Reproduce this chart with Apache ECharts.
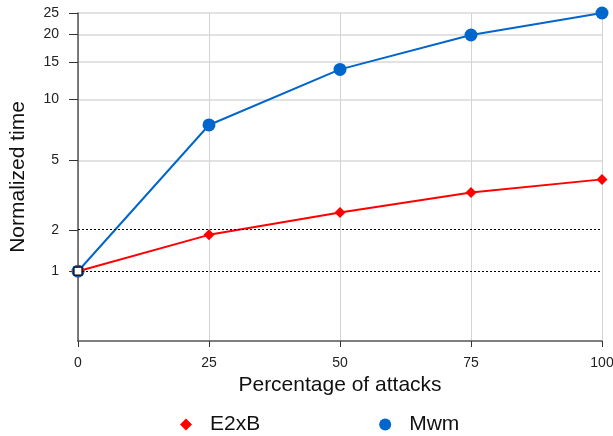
<!DOCTYPE html>
<html>
<head>
<meta charset="utf-8">
<script src="https://cdn.jsdelivr.net/npm/echarts@6/dist/echarts.min.js"></script>
<style>
  html, body { margin: 0; padding: 0; background: #fff; }
  #chart { width: 613px; height: 436px; }
</style>
</head>
<body>
<div id="chart"></div>
<script>
// data
const attacks = [0, 25, 50, 75, 100];
const e2xbTime = [1, 1.87, 2.58, 3.37, 3.98];
const mwmTime = [1, 7.55, 13.85, 19.9, 25];
const baseline = [[0, 1]];
const yTicks = [1, 2, 5, 10, 15, 20, 25];
const refLines = [1, 2];

// y axis is drawn as log10(v + 1)
const tf = (v) => Math.log10(v + 1);
const pairs = (ys) => attacks.map((x, i) => [x, tf(ys[i])]);

const font = 'Liberation Sans, Arial, sans-serif';
const chart = echarts.init(document.getElementById('chart'));

const option = {
    animation: false,
    textStyle: { fontFamily: font },
    grid: { left: 78, right: 11, top: 13, bottom: 95, outerBoundsMode: 'none' },
    legend: {
        top: 409,
        left: 175,
        itemGap: 119,
        itemWidth: 12,
        itemHeight: 12,
        textStyle: { fontSize: 21, color: '#111', fontFamily: font, padding: [0, 0, 0, 13] },
        data: [
            { name: 'E2xB', icon: 'diamond' },
            { name: 'Mwm', icon: 'circle' },
        ],
    },
    xAxis: {
        type: 'value',
        min: 0,
        max: 100,
        interval: 25,
        name: 'Percentage of attacks',
        nameLocation: 'middle',
        nameGap: 33,
        nameTextStyle: { fontSize: 21, color: '#111', fontFamily: font },
        axisLine: { lineStyle: { color: '#555', width: 1.5 } },
        axisTick: { show: true, length: 6, lineStyle: { color: '#333' } },
        axisLabel: { fontSize: 14, color: '#222', margin: 15 },
        splitLine: { show: true, lineStyle: { color: '#d4d4d4', width: 1 } },
    },
    yAxis: {
        type: 'value',
        min: 0,
        max: tf(25),
        name: 'Normalized time',
        nameLocation: 'middle',
        nameGap: 49,
        nameTextStyle: { fontSize: 21, color: '#111', fontFamily: font },
        axisLine: { show: true, lineStyle: { color: '#555', width: 1.5 } },
        axisTick: {
            show: true,
            length: 9,
            lineStyle: { color: '#333' },
            customValues: yTicks.map(tf),
        },
        axisLabel: {
            fontSize: 14,
            color: '#222',
            margin: 19,
            customValues: yTicks.map(tf),
            formatter: (v) => String(Math.round(Math.pow(10, v) - 1)),
        },
        splitLine: {
            show: true,
            lineStyle: {
                color: ['rgba(0,0,0,0)', 'rgba(0,0,0,0)', '#d9d9d9', '#d9d9d9', '#d9d9d9', '#d9d9d9', '#d9d9d9'],
                width: 1.5,
            },
        },
    },
    series: [
        {
            name: 'E2xB',
            type: 'line',
            data: pairs(e2xbTime),
            symbol: 'diamond',
            symbolSize: 11,
            color: '#ff0000',
            lineStyle: { width: 2 },
            z: 3,
            markLine: {
                silent: true,
                symbol: 'none',
                label: { show: false },
                lineStyle: { color: '#000', type: [2, 2], width: 1 },
                data: refLines.map((v) => ({ yAxis: tf(v) })),
            },
        },
        {
            name: 'Mwm',
            type: 'line',
            data: pairs(mwmTime),
            symbol: 'circle',
            symbolSize: 13,
            color: '#0066cc',
            lineStyle: { width: 2 },
            z: 2,
        },
        {
            name: 'base',
            type: 'scatter',
            data: baseline.map((p) => [p[0], tf(p[1])]),
            symbol: 'rect',
            symbolSize: 8,
            itemStyle: { color: '#ffffff', opacity: 1, borderColor: '#000', borderWidth: 1.2 },
            z: 5,
        },
    ],
};

chart.setOption(option);
</script>
</body>
</html>
